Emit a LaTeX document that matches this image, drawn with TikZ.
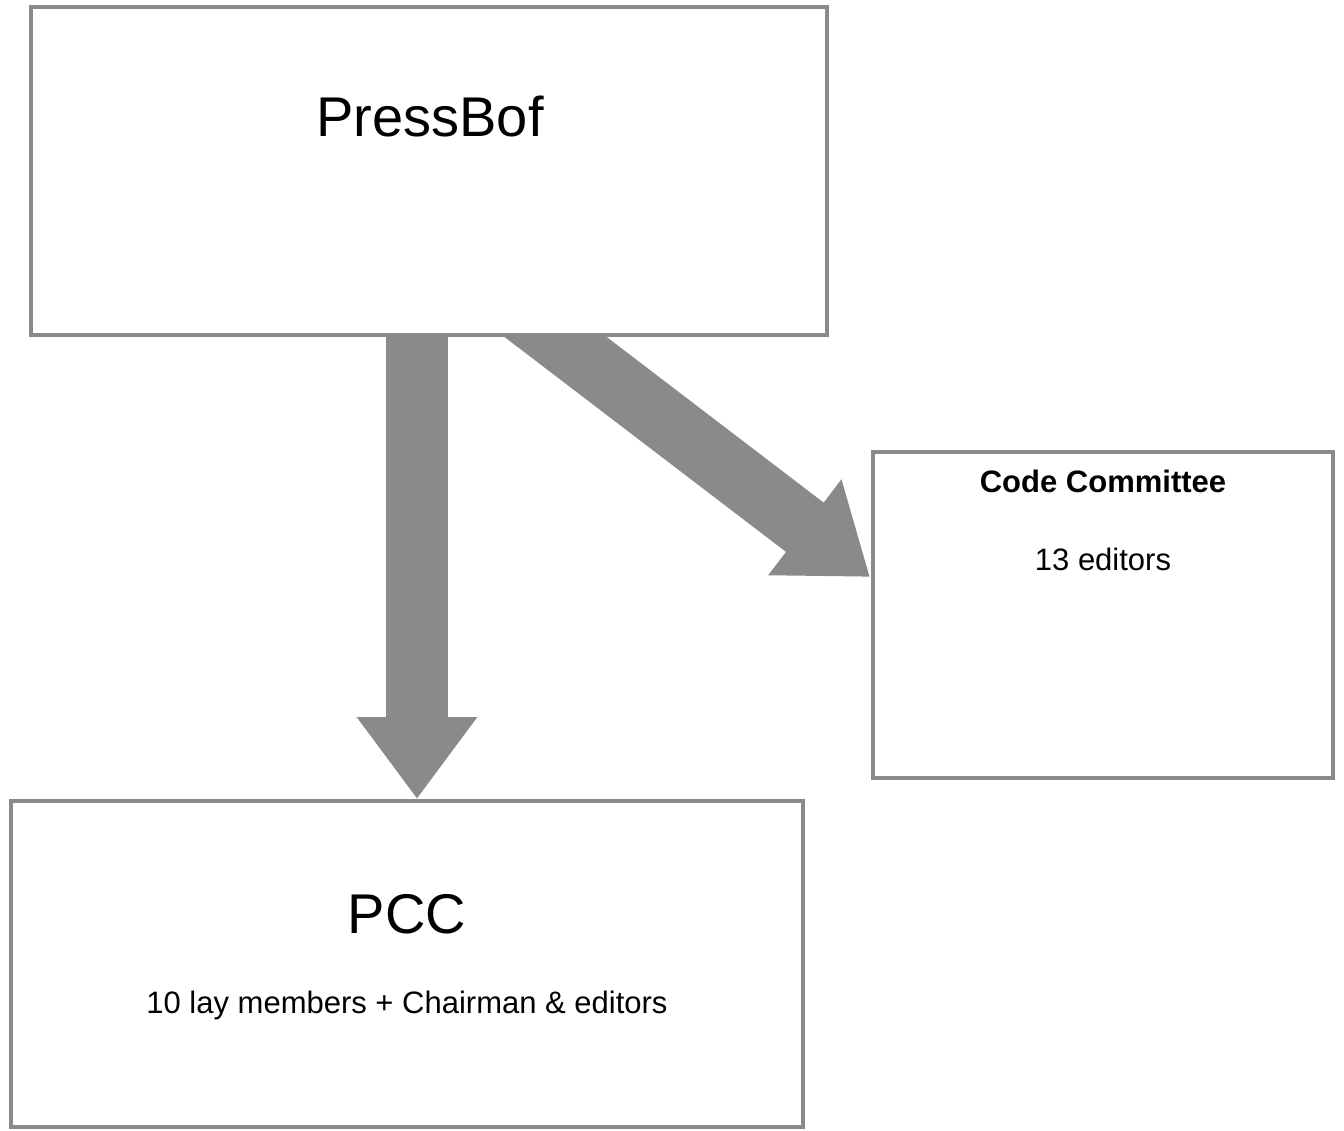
\documentclass[tikz,border=0pt]{standalone}
\usepackage{fontspec}
\setmainfont{Liberation Sans}
\usetikzlibrary{arrows.meta,positioning,calc,backgrounds}
\definecolor{shade}{HTML}{8A8A8A}

\begin{document}
\begin{tikzpicture}[x=1pt,y=-1pt,>=Triangle]
\tikzset{box/.style={draw=shade, line width=4pt, fill=white, inner sep=0pt}, big/.style={font=\fontsize{56}{60}\selectfont, anchor=base}, small/.style={font=\fontsize{31}{36}\selectfont, anchor=base}, arr/.style={draw=shade, line width=62pt, -{Triangle[length=82pt,width=115pt]}}}
\useasboundingbox (0,0) rectangle (1344,1131);
\node[box, minimum width=796pt, minimum height=328pt] (press) at (429,171) {};
\node[box, minimum width=460pt, minimum height=326pt] (code) at (1103,615) {};
\node[box, minimum width=792pt, minimum height=326pt] (pcc) at (407,964) {};
\node[big] (presslbl) at (430,137) {PressBof};
\node[small] (codelbl) at (1103,492) {\bfseries Code Committee};
\node[small] (codesub) at (1103,570) {13 editors};
\node[big] (pcclbl) at (407,933) {PCC};
\node[small] (pccsub) at (407,1013) {10 lay members + Chairman \& editors};
\coordinate (downstart) at (417,320);
\coordinate (diagstart) at (515,306);
\coordinate (diagend) at (870,577);
\begin{pgfonlayer}{background}
\draw[arr] (downstart) -- (downstart |- pcc.north);
\draw[arr] (diagstart) -- (diagend);
\end{pgfonlayer}
\end{tikzpicture}
\end{document}
